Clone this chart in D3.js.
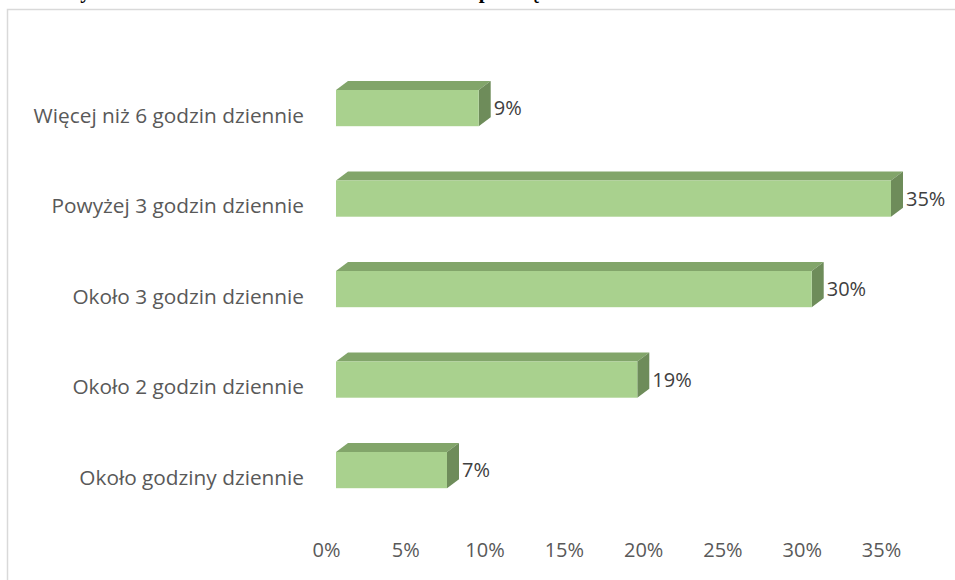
<!DOCTYPE html>
<html><head><meta charset="utf-8">
<script src="https://cdn.jsdelivr.net/npm/d3@7"></script>
<style>body{margin:0;background:#fff}svg{display:block}</style>
</head><body>
<svg id="c" width="955" height="580"></svg>
<script>
const categories = ["Więcej niż 6 godzin dziennie","Powyżej 3 godzin dziennie","Około 3 godzin dziennie","Około 2 godzin dziennie","Około godziny dziennie"];
const values = [9, 35, 30, 19, 7];
const tickValues = [0, 5, 10, 15, 20, 25, 30, 35];
const tickLabels = ["0%","5%","10%","15%","20%","25%","30%","35%"];
const titleText = "Wykres 5. Ile czasu dziennie badani uczniowie poświęcali na to zadanie w domu";

const svg = d3.select("#c");
const W = 955, H = 580;
const font = "'Open Sans', sans-serif";
const textColor = "#595959";
const front = "#a9d18e", topC = "#82a56a", sideC = "#6e8c5a";
const depthX = 12, depthY = 9;

// clipped title (cut off at the top edge, as in the reference)
svg.append("text").attr("x", 60).attr("y", -2)
  .attr("font-family", "'Liberation Serif', serif").attr("font-weight", "bold")
  .attr("font-size", 21).attr("fill", "#000").text(titleText);

// chart border
svg.append("rect").attr("x", 7.5).attr("y", 9.5).attr("width", W + 20).attr("height", H + 20)
  .attr("fill", "none").attr("stroke", "#d9d9d9").attr("stroke-width", 1.5);

const x = d3.scaleLinear().domain([0, 35]).range([336, 891]);
const y = d3.scaleBand().domain(categories).range([62.85, 515.35]).paddingInner(0.6).paddingOuter(0.3);

const data = categories.map((c, i) => ({c, v: values[i]}));
const g = svg.append("g");
const bars = g.selectAll("g.bar").data(data).join("g").attr("class", "bar");

// top face
bars.append("path").attr("fill", topC).attr("d", d => {
  const x0 = x(0), x1 = x(d.v), y0 = y(d.c);
  return `M${x0},${y0}L${x0+depthX},${y0-depthY}L${x1+depthX},${y0-depthY}L${x1},${y0}Z`;
});
// side face
bars.append("path").attr("fill", sideC).attr("d", d => {
  const x1 = x(d.v), y0 = y(d.c), y1 = y0 + y.bandwidth();
  return `M${x1},${y0}L${x1+depthX},${y0-depthY}L${x1+depthX},${y1-depthY}L${x1},${y1}Z`;
});
// front face
bars.append("rect").attr("fill", front)
  .attr("x", x(0)).attr("y", d => y(d.c))
  .attr("width", d => x(d.v) - x(0)).attr("height", y.bandwidth());

// value labels
bars.append("text")
  .attr("x", d => x(d.v) + depthX + 3)
  .attr("y", d => y(d.c) + y.bandwidth() / 2)
  .attr("dy", "0.35em")
  .attr("font-family", font).attr("font-size", 20).attr("fill", "#404040")
  .text(d => d.v + "%");

// category axis
const yAxis = svg.append("g").attr("transform", "translate(304,8)")
  .call(d3.axisLeft(y).tickSize(0).tickPadding(0));
yAxis.select(".domain").remove();
yAxis.selectAll("text").attr("font-family", font).attr("font-size", 20.8).attr("fill", textColor);

// value axis
const xAxis = svg.append("g").attr("transform", "translate(-10,543)")
  .call(d3.axisBottom(x).tickValues(tickValues).tickFormat((d, i) => tickLabels[i]).tickSize(0).tickPadding(0));
xAxis.select(".domain").remove();
xAxis.selectAll("text").attr("font-family", font).attr("font-size", 20).attr("fill", textColor);
</script>
</body></html>
